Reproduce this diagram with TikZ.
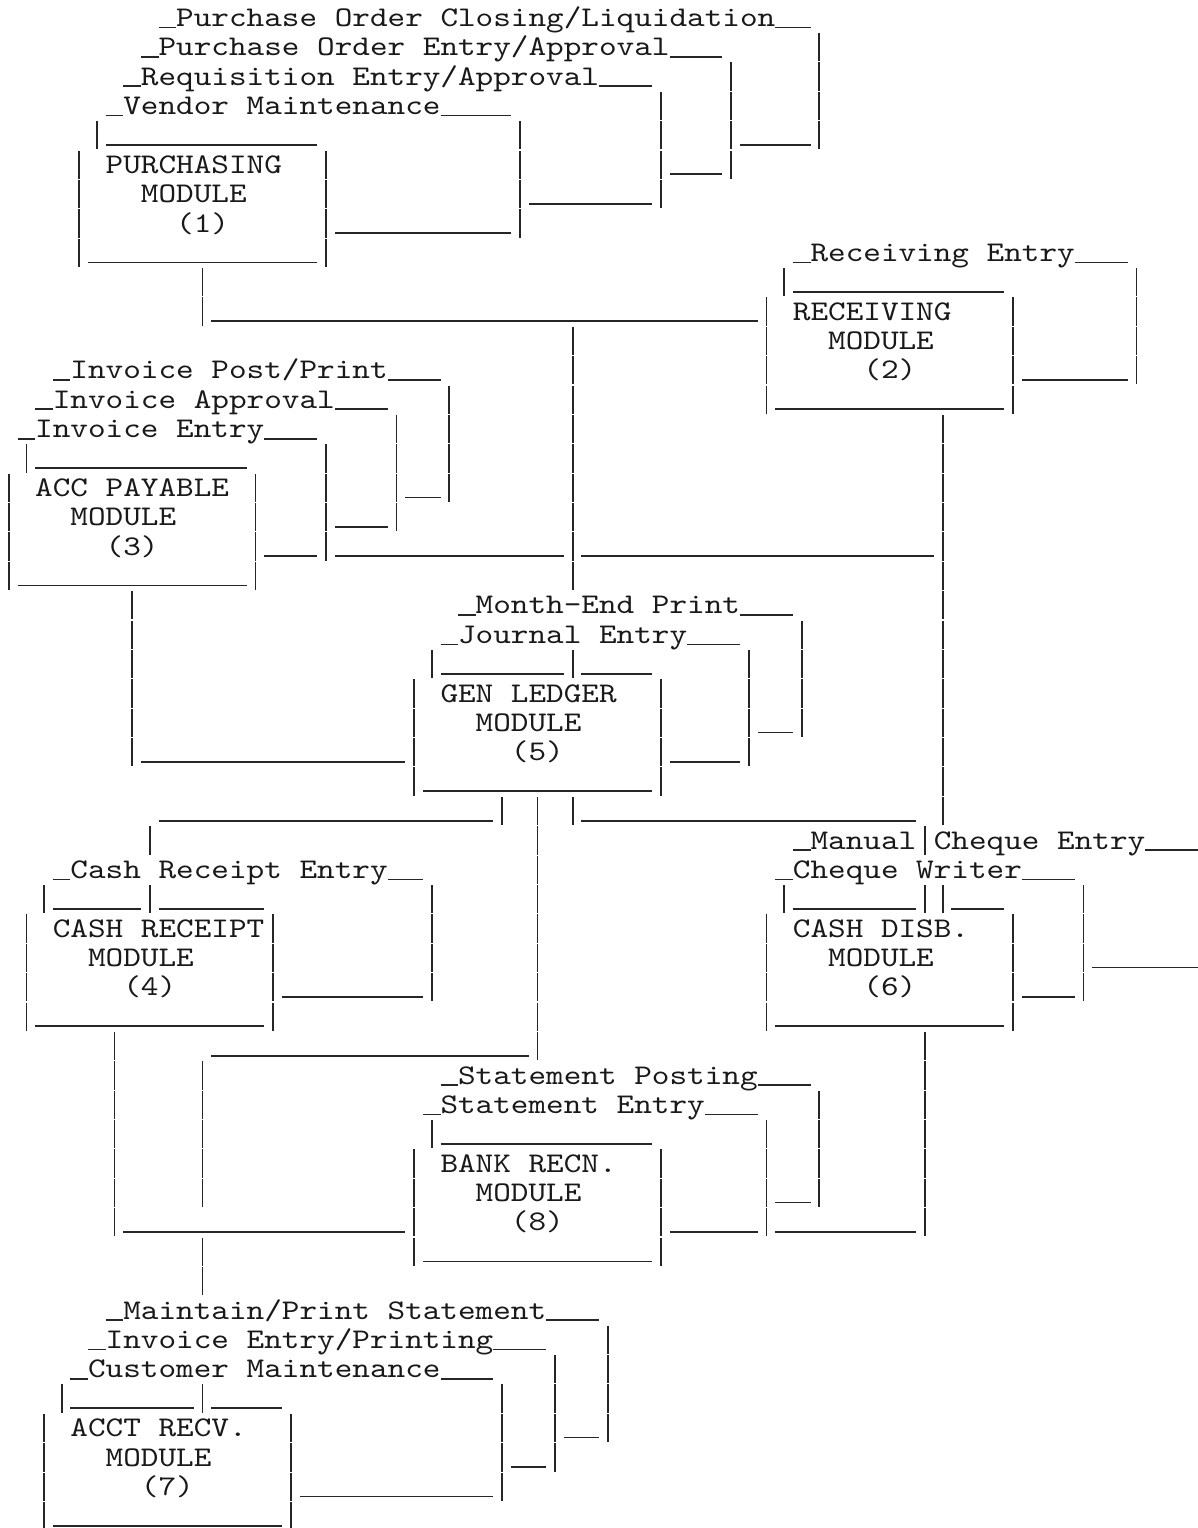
\documentclass[tikz,border=0pt]{standalone}
\usepackage{fontspec}
\newfontfamily\cour{lmmono10-regular.otf}[FakeStretch=1.1776]
\def\cw{17.62}
\def\lh{29.38}
\tikzset{
  ln/.style={line width=1.7pt, draw=black!85, line cap=butt},
  txt/.style={anchor=base west, inner sep=0pt, outer sep=0pt, text=black!90,
              font=\cour\fontsize{28.5pt}{29.38pt}\selectfont}
}
% horizontal underscore run: row, first col, last col
\newcommand\ahl[3]{\draw[ln] ({#2*\cw},{-(#1*\lh-2)}) -- ({(#3+1)*\cw},{-(#1*\lh-2)});}
% vertical bar glyphs: col, first row, last row
\newcommand\avl[3]{\foreach \rr in {#2,...,#3}{\draw[ln] ({(#1+0.5)*\cw},{-((\rr-1)*\lh+3.6)}) -- ({(#1+0.5)*\cw},{-(\rr*\lh+2.5)});}}
% text: row, col, text
\newcommand\atx[3]{\node[txt] (t#1c#2) at ({#2*\cw},{-(#1*\lh-3)}) {\frenchspacing #3};}
\begin{document}
\begin{tikzpicture}[x=1pt,y=1pt]
\fill[white] (0,0) rectangle (1198,-1528);
\useasboundingbox (0,0) rectangle (1198,-1528);

% ---------------- texts ----------------
\atx{1}{10}{Purchase Order Closing/Liquidation}
\atx{2}{9}{Purchase Order Entry/Approval}
\atx{3}{8}{Requisition Entry/Approval}
\atx{4}{7}{Vendor Maintenance}
\atx{6}{6}{PURCHASING}
\atx{7}{8}{MODULE}
\atx{8}{10}{(1)}
\atx{9}{46}{Receiving Entry}
\atx{11}{45}{RECEIVING}
\atx{12}{47}{MODULE}
\atx{13}{4}{Invoice Post/Print}
\atx{13}{49}{(2)}
\atx{14}{3}{Invoice Approval}
\atx{15}{2}{Invoice Entry}
\atx{17}{2}{ACC PAYABLE}
\atx{18}{4}{MODULE}
\atx{19}{6}{(3)}
\atx{21}{27}{Month-End Print}
\atx{22}{26}{Journal Entry}
\atx{24}{25}{GEN LEDGER}
\atx{25}{27}{MODULE}
\atx{26}{29}{(5)}
\atx{29}{46}{Manual}
\atx{29}{53}{Cheque Entry}
\atx{30}{4}{Cash Receipt Entry}
\atx{30}{45}{Cheque Writer}
\atx{32}{3}{CASH RECEIPT}
\atx{32}{45}{CASH DISB.}
\atx{33}{5}{MODULE}
\atx{33}{47}{MODULE}
\atx{34}{7}{(4)}
\atx{34}{49}{(6)}
\atx{37}{26}{Statement Posting}
\atx{38}{25}{Statement Entry}
\atx{40}{25}{BANK RECN.}
\atx{41}{27}{MODULE}
\atx{42}{29}{(8)}
\atx{45}{7}{Maintain/Print Statement}
\atx{46}{6}{Invoice Entry/Printing}
\atx{47}{5}{Customer Maintenance}
\atx{49}{4}{ACCT RECV.}
\atx{50}{6}{MODULE}
\atx{51}{8}{(7)}

% ---------------- underscores ----------------
\ahl{1}{9}{9}\ahl{1}{44}{45}
\ahl{2}{8}{8}\ahl{2}{38}{40}
\ahl{3}{7}{7}\ahl{3}{34}{36}
\ahl{4}{6}{6}\ahl{4}{25}{28}
\ahl{5}{6}{17}\ahl{5}{42}{45}
\ahl{6}{38}{40}
\ahl{7}{30}{36}
\ahl{8}{19}{28}
\ahl{9}{5}{17}\ahl{9}{45}{45}\ahl{9}{61}{63}
\ahl{10}{45}{56}
\ahl{11}{12}{42}
\ahl{13}{3}{3}\ahl{13}{22}{24}\ahl{13}{58}{63}
\ahl{14}{2}{2}\ahl{14}{19}{21}\ahl{14}{44}{56}
\ahl{15}{1}{1}\ahl{15}{15}{17}
\ahl{16}{2}{13}
\ahl{17}{23}{24}
\ahl{18}{19}{21}
\ahl{19}{15}{17}\ahl{19}{19}{31}\ahl{19}{33}{52}
\ahl{20}{1}{13}
\ahl{21}{26}{26}\ahl{21}{42}{44}
\ahl{22}{25}{25}\ahl{22}{39}{41}
\ahl{23}{25}{31}\ahl{23}{33}{36}
\ahl{25}{43}{44}
\ahl{26}{8}{22}\ahl{26}{38}{41}
\ahl{27}{24}{36}
\ahl{28}{9}{27}\ahl{28}{33}{51}
\ahl{29}{45}{45}\ahl{29}{65}{67}
\ahl{30}{3}{3}\ahl{30}{22}{23}\ahl{30}{44}{44}\ahl{30}{58}{60}
\ahl{31}{3}{7}\ahl{31}{9}{14}\ahl{31}{45}{51}\ahl{31}{54}{56}
\ahl{33}{62}{67}
\ahl{34}{16}{23}\ahl{34}{58}{60}
\ahl{35}{2}{14}\ahl{35}{44}{56}
\ahl{36}{12}{29}
\ahl{37}{25}{25}\ahl{37}{43}{45}
\ahl{38}{24}{24}\ahl{38}{40}{42}
\ahl{39}{25}{36}
\ahl{41}{44}{45}
\ahl{42}{7}{22}\ahl{42}{38}{42}\ahl{42}{44}{51}
\ahl{43}{24}{36}
\ahl{45}{6}{6}\ahl{45}{31}{33}
\ahl{46}{5}{5}\ahl{46}{28}{30}
\ahl{47}{4}{4}\ahl{47}{25}{27}
\ahl{48}{4}{10}\ahl{48}{12}{15}
\ahl{49}{32}{33}
\ahl{50}{29}{30}
\ahl{51}{17}{27}
\ahl{52}{3}{15}

% ---------------- vertical bars ----------------
\avl{46}{2}{5}
\avl{41}{3}{6}
\avl{37}{4}{7}
\avl{29}{5}{8}
\avl{5}{5}{5}
\avl{4}{6}{9}
\avl{18}{6}{9}
\avl{11}{10}{11}
\avl{44}{10}{10}
\avl{64}{10}{13}
\avl{43}{11}{14}
\avl{57}{11}{14}
\avl{32}{12}{20}\avl{32}{23}{23}\avl{32}{28}{28}
\avl{25}{14}{17}
\avl{22}{15}{18}
\avl{53}{15}{28}\avl{53}{31}{31}
\avl{1}{16}{16}
\avl{18}{16}{19}
\avl{0}{17}{20}
\avl{14}{17}{20}
\avl{7}{21}{26}
\avl{45}{22}{25}
\avl{24}{23}{23}
\avl{42}{23}{26}
\avl{23}{24}{27}
\avl{37}{24}{27}
\avl{28}{28}{28}
\avl{30}{28}{36}
\avl{8}{29}{29}\avl{8}{31}{31}
\avl{52}{29}{29}\avl{52}{31}{31}\avl{52}{36}{42}
\avl{2}{31}{31}
\avl{24}{31}{34}
\avl{44}{31}{31}
\avl{61}{31}{34}
\avl{1}{32}{35}
\avl{15}{32}{35}
\avl{43}{32}{35}
\avl{57}{32}{35}
\avl{6}{36}{42}
\avl{11}{37}{41}\avl{11}{43}{44}
\avl{46}{38}{41}
\avl{24}{39}{39}
\avl{43}{39}{42}
\avl{23}{40}{43}
\avl{37}{40}{43}
\avl{34}{46}{49}
\avl{31}{47}{50}
\avl{3}{48}{48}
\avl{11}{48}{48}
\avl{28}{48}{51}
\avl{2}{49}{52}
\avl{16}{49}{52}
\end{tikzpicture}
\end{document}
